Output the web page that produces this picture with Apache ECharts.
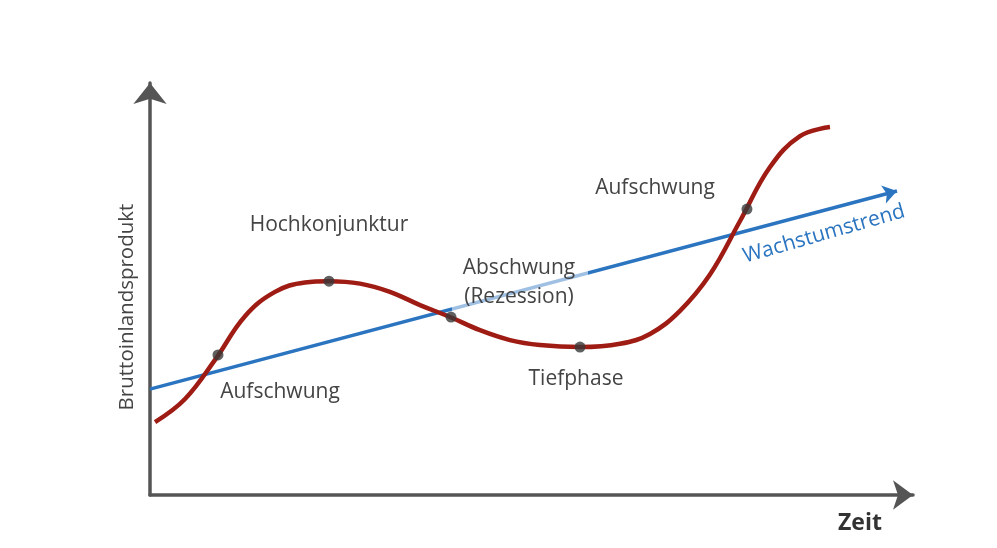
<!DOCTYPE html>
<html>
<head>
<meta charset="utf-8">
<script src="https://cdn.jsdelivr.net/npm/echarts@6/dist/echarts.min.js"></script>
<style>html,body{margin:0;padding:0;background:#fff}#c{width:997px;height:548px}</style>
</head>
<body>
<div id="c"></div>
<script>
// Konjunkturzyklus (x: Zeit 0..100, y: BIP 0..100)
const cycleX = [0.66,4.59,8.52,12.45,16.38,20.31,23.46,27.52,31.45,35.39,39.32,43.25,47.18,51.11,56.36,61.60,65.53,69.46,73.39,77.33,81.26,85.19,89.12];
const cycleY = [17.7,23.3,32.8,43.4,49.3,51.6,51.9,51.3,49.3,46.1,43.2,40.0,37.6,36.4,35.9,36.7,39.1,44.7,53.5,66.5,79.6,87.1,89.3];
const phasePointX = [8.91,23.46,39.45,56.36,78.24];
const phasePointY = [34.0,51.9,43.2,35.9,69.4];
const trendX = [0,97.9];
const trendY = [25.7,73.8];
const labels = {
  hoch: 'Hochkonjunktur', ab1: 'Abschwung', ab2: '(Rezession)',
  auf: 'Aufschwung', tief: 'Tiefphase', trend: 'Wachstumstrend',
  yName: 'Bruttoinlandsprodukt', xName: 'Zeit'
};

const chart = echarts.init(document.getElementById('c'), null, {renderer:'canvas'});
const grey = '#444';
const font = '"Open Sans", "DejaVu Sans", sans-serif';
function txt(text, x, y, opts) {
  opts = opts || {};
  return {
    type: 'text', z: 100, x: x, y: y, rotation: opts.rotation || 0,
    style: {
      text: text, x: 0, y: 0, fill: opts.fill || grey,
      font: (opts.weight || 'normal') + ' ' + (opts.size || 21) + 'px ' + font,
      align: 'center', verticalAlign: 'middle', textAlign: 'center', textVerticalAlign: 'middle'
    }
  };
}
chart.setOption({
  animation: false,
  backgroundColor: '#fff',
  grid: {left: 150, right: 84, top: 83, bottom: 53, containLabel: false},
  xAxis: {
    type: 'value', min: 0, max: 100,
    axisLine: {show: true, symbol: ['none','arrow'], symbolSize: [22,20], lineStyle: {color: '#555', width: 3.5}},
    axisTick: {show: false}, axisLabel: {show: false}, splitLine: {show: false}
  },
  yAxis: {
    type: 'value', min: 0, max: 100,
    axisLine: {show: true, symbol: ['none','arrow'], symbolSize: [25,21], lineStyle: {color: '#555', width: 3.5}},
    axisTick: {show: false}, axisLabel: {show: false}, splitLine: {show: false}
  },
  series: [
    {
      type: 'lines', coordinateSystem: 'cartesian2d', z: 3,
      symbol: ['none','arrow'], symbolSize: 14,
      lineStyle: {color: '#2a74c0', width: 3.5, opacity: 1},
      data: [{coords: trendX.map((x,i)=>[x, trendY[i]])}]
    },
    {
      type: 'line', smooth: 0.4, symbol: 'none', z: 4,
      lineStyle: {color: '#9f1c14', width: 4.5},
      data: cycleX.map((x,i)=>[x, cycleY[i]])
    },
    {
      type: 'scatter', symbolSize: 11, z: 5,
      itemStyle: {color: '#383838'},
      data: phasePointX.map((x,i)=>[x, phasePointY[i]])
    }
  ],
  graphic: [
    {type: 'rect', z: 50, shape: {x: 452, y: 252, width: 136, height: 60}, style: {fill: 'rgba(255,255,255,0.55)'}},
    txt(labels.hoch, 329, 225),
    txt(labels.ab1, 519, 268),
    txt(labels.ab2, 519, 297),
    txt(labels.auf, 280, 392),
    txt(labels.tief, 576, 379),
    txt(labels.auf, 655, 188),
    txt(labels.trend, 824, 234, {fill: '#2a74c0', size: 21, rotation: 16 * Math.PI / 180}),
    txt(labels.yName, 127, 307, {rotation: Math.PI / 2, size: 20.5}),
    txt(labels.xName, 860, 523, {weight: 'bold', size: 23, fill: '#333'})
  ]
});
</script>
</body>
</html>
